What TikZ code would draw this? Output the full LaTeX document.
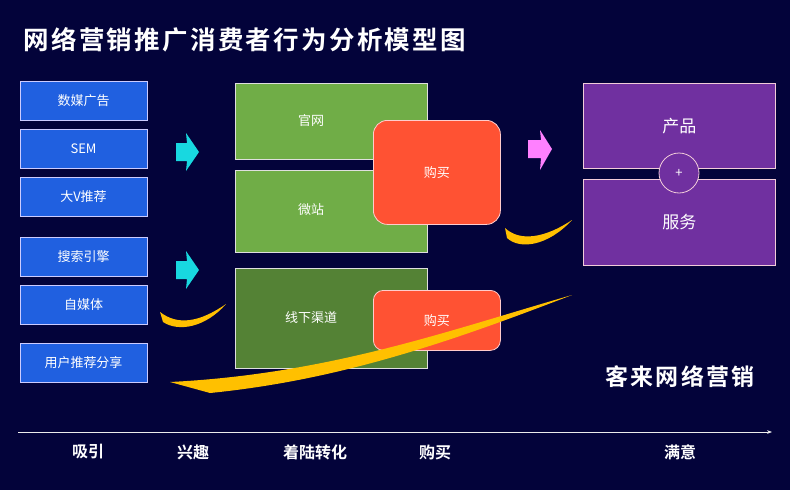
\documentclass[tikz,border=0pt]{standalone}
\usepackage{fontspec}
\setmainfont{Noto Sans CJK SC}
\newfontfamily\cjkb[LetterSpace=9]{Noto Sans CJK SC Bold}
\newfontfamily\cjkbb{Noto Sans CJK SC Bold}
\usetikzlibrary{arrows.meta}
\definecolor{bg}{HTML}{03033A}
\definecolor{bluebox}{HTML}{2060E0}
\definecolor{lgreen}{HTML}{70AD47}
\definecolor{dgreen}{HTML}{548235}
\definecolor{redb}{HTML}{FF5233}
\definecolor{purp}{HTML}{7030A0}
\definecolor{cyanA}{HTML}{18D8E0}
\definecolor{pinkA}{HTML}{FF80FF}
\definecolor{gold}{HTML}{FFC000}
\tikzset{
 src/.style={draw=white!80!blue,fill=bluebox,line width=0.8pt,minimum width=127pt,minimum height=39pt,text=white,font=\fontsize{13}{14}\selectfont},
 gbox/.style={draw=white!75!gray,line width=0.8pt,minimum width=192pt,text=white},
 gtext/.style={text=white,font=\fontsize{13}{14}\selectfont},
 buy/.style={draw=white!80!red,fill=redb,rounded corners=14pt,line width=0.8pt,minimum width=127pt,text=white,font=\fontsize{13}{14}\selectfont},
 pbox/.style={draw=white!80!purple,fill=purp,line width=0.8pt,minimum width=192pt,text=white,font=\fontsize{17}{19}\selectfont},
 stage/.style={text=white,font=\cjkbb\fontsize{16}{18}\selectfont},
}
\begin{document}
\begin{tikzpicture}[x=1pt,y=-1pt]
\fill[bg] (0,0) rectangle (790,490);
\useasboundingbox (0,0) rectangle (790,490);
\node[anchor=west,text=white,font=\cjkb\fontsize{25.5}{27}\selectfont] (title) at (20,40) {网络营销推广消费者行为分析模型图};
% sources
\node[src] (s1) at (83.5,100.5) {数媒广告};
\node[src] (s2) at (83.5,148.5) {SEM};
\node[src] (s3) at (83.5,196.5) {大V推荐};
\node[src] (s4) at (83.5,256.5) {搜索引擎};
\node[src] (s5) at (83.5,304.5) {自媒体};
\node[src] (s6) at (83.5,363) {用户推荐分享};
% arrows
\fill[cyanA] (176,143) -- (187,143) -- (186,133) -- (199,152) -- (186,171) -- (187,161) -- (176,161) -- cycle;
\fill[cyanA] (176,261) -- (187,261) -- (186,251) -- (199,270) -- (186,289) -- (187,279) -- (176,279) -- cycle;
\fill[pinkA] (528,140) -- (541,140) -- (540,130) -- (552,149) -- (540,170) -- (541,158) -- (528,158) -- cycle;
% green
\node[gbox,fill=lgreen,minimum height=76pt,anchor=north west] (g1) at (235,83) {};
\node[gtext] (t1) at (311,121) {官网};
\node[gbox,fill=lgreen,minimum height=82pt,anchor=north west] (g2) at (235,170) {};
\node[gtext] (t2) at (311,210) {微站};
\node[gbox,fill=dgreen,minimum height=100pt,anchor=north west] (g3) at (235,268) {};
\node[gtext] (t3) at (311,318) {线下渠道};
\node[buy,minimum height=104pt,anchor=north west] (b1) at (373,120) {购买};
\node[buy,minimum height=60pt,rounded corners=10pt,anchor=north west] (b2) at (373,290) {购买};
% purple
\node[pbox,minimum height=85pt,anchor=north west] (p1) at (583,83) {产品};
\node[pbox,minimum height=86pt,anchor=north west] (p2) at (583,179) {服务};
\node[circle,draw=white!80!purple,fill=purp,line width=0.8pt,minimum size=40pt,text=white,font=\fontsize{13}{14}\selectfont] (plus) at (679,173) {+};
% swooshes
\fill[gold] (505,228) .. controls (520,242) and (545,238) .. (572,220) .. controls (548,246) and (520,250) .. (507,238) -- cycle;
\fill[gold] (160,312) .. controls (178,326) and (200,322) .. (226,304) .. controls (205,328) and (178,332) .. (163,322) -- cycle;
\fill[gold] (170,382) .. controls (330,374) and (450,330) .. (572,295) .. controls (450,342) and (340,380) .. (210,393) -- cycle;
\node[text=white,font=\cjkb\fontsize{23}{25}\selectfont] (brand) at (680,377) {客来网络营销};
% axis
\coordinate (a0) at (18,432);
\coordinate (a1) at (772,432);
\draw[white!85!gray,line width=1pt,-{Stealth[length=5pt]}] (a0) -- (a1);
\node[stage] (l1) at (88,452) {吸引};
\node[stage] (l2) at (193,452) {兴趣};
\node[stage] (l3) at (315,452) {着陆转化};
\node[stage] (l4) at (435,452) {购买};
\node[stage] (l5) at (680,452) {满意};
\end{tikzpicture}
\end{document}
